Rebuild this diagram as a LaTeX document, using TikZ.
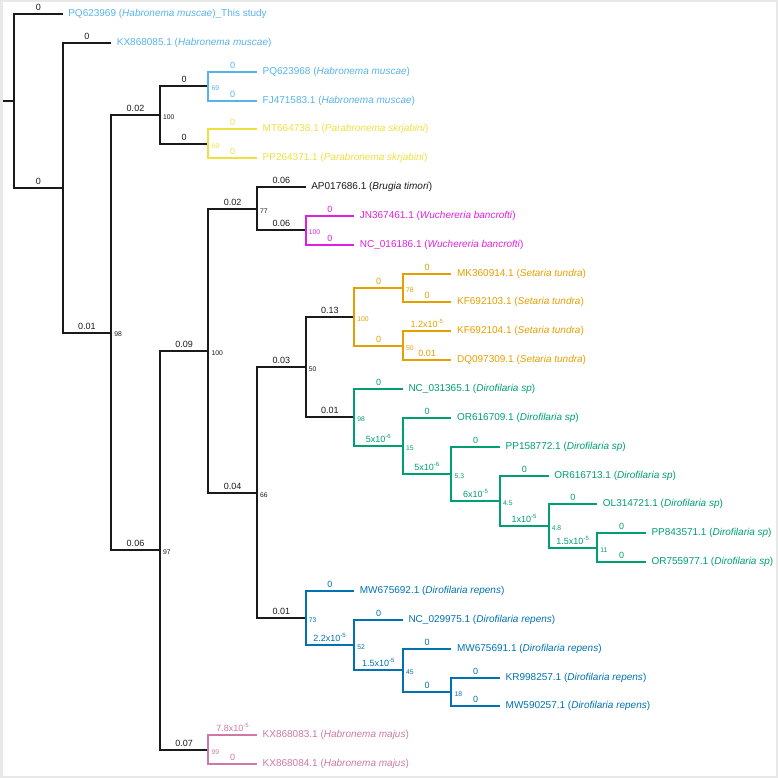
\documentclass[tikz,border=0pt]{standalone}
\usepackage{fontspec}
\setmainfont{Liberation Sans}
\definecolor{cMus}{HTML}{56B4E9}
\definecolor{cYel}{HTML}{EEE040}
\definecolor{cMag}{HTML}{E020E0}
\definecolor{cOra}{HTML}{E69F00}
\definecolor{cGrn}{HTML}{009E73}
\definecolor{cBlu}{HTML}{0072B2}
\definecolor{cPnk}{HTML}{CC79A7}
\definecolor{cBlk}{HTML}{1A1A1A}
\begin{document}
\begin{tikzpicture}[x=1pt,y=-1pt,
  eb/.style={line width=2pt},
  el/.style={pos=0.75, above, inner sep=2.2pt, font=\fontsize{9}{10}\selectfont},
  lf/.style={anchor=west, inner sep=0pt, xshift=5.5pt, font=\fontsize{10}{12}\selectfont},
  bs/.style={anchor=west, inner sep=0pt, xshift=3pt, yshift=-2pt, font=\fontsize{6.8}{8}\selectfont},
  frame/.style={draw=black!9, line width=2.5pt}]
\useasboundingbox (0,0) rectangle (778,778);
\draw[frame] (1.25,1.25) rectangle (776.75,776.75);
% internal nodes
\coordinate (root) at (14,101);
\coordinate (stub) at (3,101);
\coordinate (n1) at (62.6,188);
\coordinate (n2) at (111.2,332.6);
\coordinate (nMus) at (159.8,115);
\coordinate (nBlue) at (208.4,86);
\coordinate (nYel) at (208.4,144);
\coordinate (nBig) at (159.8,550);
\coordinate (nOnch) at (208.4,351);
\coordinate (nMaj) at (208.4,750);
\coordinate (nBW) at (257,209);
\coordinate (nWuc) at (305.6,230);
\coordinate (nFil) at (257,493);
\coordinate (nSD) at (305.6,367);
\coordinate (nSet) at (354.2,317);
\coordinate (nS1) at (402.8,288);
\coordinate (nS2) at (402.8,346);
\coordinate (nD1) at (354.2,417);
\coordinate (nD2) at (402.8,446);
\coordinate (nD3) at (451.4,474);
\coordinate (nD4) at (500,501);
\coordinate (nD5) at (548.6,526);
\coordinate (nD6) at (597.2,548);
\coordinate (nR1) at (305.6,618);
\coordinate (nR2) at (354.2,645);
\coordinate (nR3) at (402.8,670);
\coordinate (nR4) at (451.4,692);
% leaf ends
\coordinate (L0) at (62.6,14);
\coordinate (L1) at (111.2,43);
\coordinate (L2) at (257,72);
\coordinate (L3) at (257,101);
\coordinate (L4) at (257,129);
\coordinate (L5) at (257,158);
\coordinate (L6) at (305.6,187);
\coordinate (L7) at (354.2,216);
\coordinate (L8) at (354.2,245);
\coordinate (L9) at (451.4,274);
\coordinate (L10) at (451.4,302);
\coordinate (L11) at (451.4,331);
\coordinate (L12) at (451.4,360);
\coordinate (L13) at (402.8,389);
\coordinate (L14) at (451.4,418);
\coordinate (L15) at (500,447);
\coordinate (L16) at (548.6,476);
\coordinate (L17) at (597.2,504);
\coordinate (L18) at (645.8,533);
\coordinate (L19) at (645.8,562);
\coordinate (L20) at (354.2,591);
\coordinate (L21) at (402.8,620);
\coordinate (L22) at (451.4,649);
\coordinate (L23) at (500,678);
\coordinate (L24) at (500,706);
\coordinate (L25) at (257,735);
\coordinate (L26) at (257,764);
% black backbone
\draw[eb,cBlk] (stub) -- (root);
\draw[eb,cBlk] (root) |- (L0) node[el] {0};
\draw[eb,cBlk] (root) |- (n1) node[el] {0};
\draw[eb,cBlk] (n1) |- (L1) node[el] {0};
\draw[eb,cBlk] (n1) |- (n2) node[el] {0.01};
\draw[eb,cBlk] (n2) |- (nMus) node[el] {0.02};
\draw[eb,cBlk] (n2) |- (nBig) node[el] {0.06};
\draw[eb,cBlk] (nMus) |- (nBlue) node[el] {0};
\draw[eb,cBlk] (nMus) |- (nYel) node[el] {0};
\draw[eb,cBlk] (nBig) |- (nOnch) node[el] {0.09};
\draw[eb,cBlk] (nBig) |- (nMaj) node[el] {0.07};
\draw[eb,cBlk] (nOnch) |- (nBW) node[el] {0.02};
\draw[eb,cBlk] (nOnch) |- (nFil) node[el] {0.04};
\draw[eb,cBlk] (nBW) |- (L6) node[el] {0.06};
\draw[eb,cBlk] (nBW) |- (nWuc) node[el] {0.06};
\draw[eb,cBlk] (nFil) |- (nSD) node[el] {0.03};
\draw[eb,cBlk] (nFil) |- (nR1) node[el] {0.01};
\draw[eb,cBlk] (nSD) |- (nSet) node[el] {0.13};
\draw[eb,cBlk] (nSD) |- (nD1) node[el] {0.01};
% coloured clades
\draw[eb,cMus] (nBlue) |- (L2) node[el] {0};
\draw[eb,cMus] (nBlue) |- (L3) node[el] {0};
\draw[eb,cYel] (nYel) |- (L4) node[el] {0};
\draw[eb,cYel] (nYel) |- (L5) node[el] {0};
\draw[eb,cMag] (nWuc) |- (L7) node[el] {0};
\draw[eb,cMag] (nWuc) |- (L8) node[el] {0};
\draw[eb,cOra] (nSet) |- (nS1) node[el] {0};
\draw[eb,cOra] (nSet) |- (nS2) node[el] {0};
\draw[eb,cOra] (nS1) |- (L9) node[el] {0};
\draw[eb,cOra] (nS1) |- (L10) node[el] {0};
\draw[eb,cOra] (nS2) |- (L11) node[el] {1.2x10\textsuperscript{-5}};
\draw[eb,cOra] (nS2) |- (L12) node[el] {0.01};
\draw[eb,cGrn] (nD1) |- (L13) node[el] {0};
\draw[eb,cGrn] (nD1) |- (nD2) node[el] {5x10\textsuperscript{-6}};
\draw[eb,cGrn] (nD2) |- (L14) node[el] {0};
\draw[eb,cGrn] (nD2) |- (nD3) node[el] {5x10\textsuperscript{-6}};
\draw[eb,cGrn] (nD3) |- (L15) node[el] {0};
\draw[eb,cGrn] (nD3) |- (nD4) node[el] {6x10\textsuperscript{-5}};
\draw[eb,cGrn] (nD4) |- (L16) node[el] {0};
\draw[eb,cGrn] (nD4) |- (nD5) node[el] {1x10\textsuperscript{-5}};
\draw[eb,cGrn] (nD5) |- (L17) node[el] {0};
\draw[eb,cGrn] (nD5) |- (nD6) node[el] {1.5x10\textsuperscript{-5}};
\draw[eb,cGrn] (nD6) |- (L18) node[el] {0};
\draw[eb,cGrn] (nD6) |- (L19) node[el] {0};
\draw[eb,cBlu] (nR1) |- (L20) node[el] {0};
\draw[eb,cBlu] (nR1) |- (nR2) node[el] {2.2x10\textsuperscript{-5}};
\draw[eb,cBlu] (nR2) |- (L21) node[el] {0};
\draw[eb,cBlu] (nR2) |- (nR3) node[el] {1.5x10\textsuperscript{-5}};
\draw[eb,cBlu] (nR3) |- (L22) node[el] {0};
\draw[eb,cBlu] (nR3) |- (nR4) node[el] {0};
\draw[eb,cBlu] (nR4) |- (L23) node[el] {0};
\draw[eb,cBlu] (nR4) |- (L24) node[el] {0};
\draw[eb,cPnk] (nMaj) |- (L25) node[el] {7.8x10\textsuperscript{-5}};
\draw[eb,cPnk] (nMaj) |- (L26) node[el] {0};
% bootstrap values
\node[bs,cBlk] (b2) at (n2) {98};
\node[bs,cBlk] (bMus) at (nMus) {100};
\node[bs,cMus] (bBlue) at (nBlue) {69};
\node[bs,cYel] (bYel) at (nYel) {69};
\node[bs,cBlk] (bBig) at (nBig) {97};
\node[bs,cBlk] (bOnch) at (nOnch) {100};
\node[bs,cPnk] (bMaj) at (nMaj) {99};
\node[bs,cBlk] (bBW) at (nBW) {77};
\node[bs,cMag] (bWuc) at (nWuc) {100};
\node[bs,cBlk] (bFil) at (nFil) {66};
\node[bs,cBlk] (bSD) at (nSD) {50};
\node[bs,cOra] (bSet) at (nSet) {100};
\node[bs,cOra] (bS1) at (nS1) {78};
\node[bs,cOra] (bS2) at (nS2) {50};
\node[bs,cGrn] (bD1) at (nD1) {98};
\node[bs,cGrn] (bD2) at (nD2) {15};
\node[bs,cGrn] (bD3) at (nD3) {5.3};
\node[bs,cGrn] (bD4) at (nD4) {4.5};
\node[bs,cGrn] (bD5) at (nD5) {4.8};
\node[bs,cGrn] (bD6) at (nD6) {11};
\node[bs,cBlu] (bR1) at (nR1) {73};
\node[bs,cBlu] (bR2) at (nR2) {52};
\node[bs,cBlu] (bR3) at (nR3) {45};
\node[bs,cBlu] (bR4) at (nR4) {18};
% leaf labels
\node[lf,text=cMus] (t0) at (L0) {PQ623969 (\textit{Habronema muscae})\_This study};
\node[lf,text=cMus] (t1) at (L1) {KX868085.1 (\textit{Habronema muscae})};
\node[lf,text=cMus] (t2) at (L2) {PQ623968 (\textit{Habronema muscae})};
\node[lf,text=cMus] (t3) at (L3) {FJ471583.1 (\textit{Habronema muscae})};
\node[lf,text=cYel] (t4) at (L4) {MT664738.1 (\textit{Parabronema skrjabini})};
\node[lf,text=cYel] (t5) at (L5) {PP264371.1 (\textit{Parabronema skrjabini})};
\node[lf,text=cBlk] (t6) at (L6) {AP017686.1 (\textit{Brugia timori})};
\node[lf,text=cMag] (t7) at (L7) {JN367461.1 (\textit{Wuchereria bancrofti})};
\node[lf,text=cMag] (t8) at (L8) {NC\_016186.1 (\textit{Wuchereria bancrofti})};
\node[lf,text=cOra] (t9) at (L9) {MK360914.1 (\textit{Setaria tundra})};
\node[lf,text=cOra] (t10) at (L10) {KF692103.1 (\textit{Setaria tundra})};
\node[lf,text=cOra] (t11) at (L11) {KF692104.1 (\textit{Setaria tundra})};
\node[lf,text=cOra] (t12) at (L12) {DQ097309.1 (\textit{Setaria tundra})};
\node[lf,text=cGrn] (t13) at (L13) {NC\_031365.1 (\textit{Dirofilaria sp})};
\node[lf,text=cGrn] (t14) at (L14) {OR616709.1 (\textit{Dirofilaria sp})};
\node[lf,text=cGrn] (t15) at (L15) {PP158772.1 (\textit{Dirofilaria sp})};
\node[lf,text=cGrn] (t16) at (L16) {OR616713.1 (\textit{Dirofilaria sp})};
\node[lf,text=cGrn] (t17) at (L17) {OL314721.1 (\textit{Dirofilaria sp})};
\node[lf,text=cGrn] (t18) at (L18) {PP843571.1 (\textit{Dirofilaria sp})};
\node[lf,text=cGrn] (t19) at (L19) {OR755977.1 (\textit{Dirofilaria sp})};
\node[lf,text=cBlu] (t20) at (L20) {MW675692.1 (\textit{Dirofilaria repens})};
\node[lf,text=cBlu] (t21) at (L21) {NC\_029975.1 (\textit{Dirofilaria repens})};
\node[lf,text=cBlu] (t22) at (L22) {MW675691.1 (\textit{Dirofilaria repens})};
\node[lf,text=cBlu] (t23) at (L23) {KR998257.1 (\textit{Dirofilaria repens})};
\node[lf,text=cBlu] (t24) at (L24) {MW590257.1 (\textit{Dirofilaria repens})};
\node[lf,text=cPnk] (t25) at (L25) {KX868083.1 (\textit{Habronema majus})};
\node[lf,text=cPnk] (t26) at (L26) {KX868084.1 (\textit{Habronema majus})};
\end{tikzpicture}
\end{document}
